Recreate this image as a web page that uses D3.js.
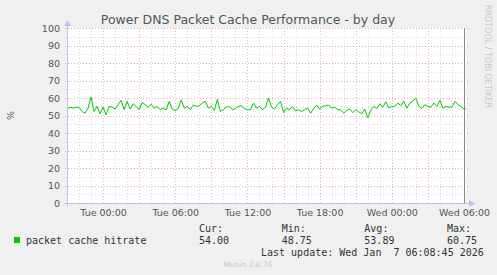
<!DOCTYPE html>
<html>
<head>
<meta charset="utf-8">
<script src="https://cdn.jsdelivr.net/npm/d3@7"></script>
<style>
	body { margin: 0; background: #f0f0f0; }
	svg { display: block; }
	.c-munin__tick text { font-family: "DejaVu Sans", sans-serif; font-size: 9.5px; fill: #555; }
	.c-munin__mono { font-family: "DejaVu Sans Mono", monospace; font-size: 10px; fill: #333; }
	.c-munin__grid line { shape-rendering: crispEdges; }
</style>
</head>
<body>
<svg id="chart" width="497" height="275"></svg>
<script>
//Chart values, one reading every 15 minutes from Mon 21:00
var startTime = "2026-01-05T21:00:00";
var endTime = "2026-01-07T06:10:00";
var stepMinutes = 15;
var hitrate = [
	53.3, 54.8, 54.2, 54.8, 54.6, 52.3, 51.3, 54.2, 60.6, 52.3,
	55.2, 51.0, 54.8, 50.4, 55.2, 54.8, 53.7, 56.2, 58.7, 53.3,
	58.1, 53.7, 56.7, 55.2, 53.3, 57.5, 56.2, 54.8, 56.5, 54.2,
	55.2, 53.3, 54.2, 53.3, 58.1, 53.7, 52.7, 54.2, 59.0, 54.2,
	55.2, 53.3, 56.0, 55.2, 55.6, 57.1, 58.1, 54.2, 55.2, 52.9,
	59.3, 52.3, 53.3, 54.8, 55.2, 53.3, 54.0, 55.2, 55.6, 54.0,
	53.3, 53.3, 57.1, 54.2, 55.2, 53.3, 54.8, 60.0, 54.8, 53.7,
	56.2, 58.1, 51.7, 54.2, 53.3, 55.2, 52.7, 53.3, 52.3, 53.3,
	54.2, 51.3, 54.0, 56.0, 53.7, 55.2, 55.6, 56.0, 54.2, 54.8,
	53.3, 53.3, 51.3, 52.9, 53.7, 51.7, 53.3, 52.1, 51.0, 53.7,
	48.75, 52.9, 55.2, 54.0, 56.7, 54.8, 57.9, 54.4, 55.2, 55.2,
	57.1, 55.6, 58.1, 54.2, 57.1, 58.3, 59.8, 55.2, 54.0, 56.2,
	55.2, 54.8, 57.1, 55.2, 58.7, 54.2, 55.2, 54.8, 54.8, 58.1,
	56.2, 55.2, 53.7, 54.0
];
var yTicks = [0, 10, 20, 30, 40, 50, 60, 70, 80, 90, 100];
var xLabelTimes = ["2026-01-06T00:00", "2026-01-06T06:00", "2026-01-06T12:00", "2026-01-06T18:00", "2026-01-07T00:00", "2026-01-07T06:00"];
var legendHeads = ["Cur:", "Min:", "Avg:", "Max:"];
var legendValues = ["54.00", "48.75", "53.89", "60.75"];

var classPrefix = "c-munin";
var svg = d3.select("#chart");
var plot = {left: 67, right: 466, top: 28, bottom: 203};

//Set up the scales
var parse = d3.isoParse;
var xScale = d3.scaleTime()
	.domain([parse(startTime), parse(endTime)])
	.range([plot.left, plot.right]);
var yScale = d3.scaleLinear()
	.domain([0, 100])
	.range([plot.bottom, plot.top]);

var points = hitrate.map(function(v, i){
	return {t: new Date(parse(startTime).getTime() + i * stepMinutes * 60000), v: v};
});

//Plot background
svg.append("rect")
	.attr("x", plot.left).attr("y", plot.top)
	.attr("width", plot.right - plot.left).attr("height", plot.bottom - plot.top)
	.attr("fill", "#fff");

//Grid lines
var hours = d3.timeHour.range(xScale.domain()[0], xScale.domain()[1]).filter(function(d){
	return +d > +xScale.domain()[0];
});
var grid = svg.append("g").attr("class", classPrefix + "__grid");
hours.forEach(function(d){
	var major = d.getHours() % 3 === 0;
	var x = Math.round(xScale(d));
	grid.append("line")
		.attr("x1", x).attr("x2", x)
		.attr("y1", plot.top).attr("y2", plot.bottom + (major ? 2 : 0))
		.attr("stroke", major ? "#eab4b4" : "#dcdcdc")
		.attr("stroke-dasharray", "1,2");
});
d3.range(5, 101, 5).forEach(function(v){
	var major = v % 10 === 0;
	var y = Math.round(yScale(v));
	grid.append("line")
		.attr("x1", plot.left - 2).attr("x2", plot.right + (major ? 3 : 0))
		.attr("y1", y).attr("y2", y)
		.attr("stroke", major ? "#e6a8a8" : "#dcdcdc")
		.attr("stroke-dasharray", "1,2");
});

//Axes
var yAxis = d3.axisLeft(yScale).tickValues(yTicks).tickSize(0).tickPadding(7);
svg.append("g")
	.attr("class", classPrefix + "__tick")
	.attr("transform", "translate(" + plot.left + ",0)")
	.call(yAxis)
	.call(function(g){ g.select(".domain").remove(); });

var xAxis = d3.axisBottom(xScale)
	.tickValues(xLabelTimes.map(parse))
	.tickFormat(d3.timeFormat("%a %H:%M"))
	.tickSize(0).tickPadding(6);
svg.append("g")
	.attr("class", classPrefix + "__tick")
	.attr("transform", "translate(0," + plot.bottom + ")")
	.call(xAxis)
	.call(function(g){ g.select(".domain").remove(); });

//Data line
svg.append("defs").append("clipPath").attr("id", "plotclip")
	.append("rect")
	.attr("x", plot.left).attr("y", plot.top)
	.attr("width", plot.right - plot.left).attr("height", plot.bottom - plot.top);
svg.append("path")
	.datum(points)
	.attr("clip-path", "url(#plotclip)")
	.attr("fill", "none")
	.attr("stroke", "#00cc00")
	.attr("stroke-width", 1)
	.attr("d", d3.line()
		.x(function(d){ return xScale(d.t); })
		.y(function(d){ return yScale(d.v); }));

//Right edge rule
svg.append("line")
	.attr("x1", plot.right - 1.5).attr("x2", plot.right - 1.5)
	.attr("y1", plot.top).attr("y2", plot.bottom)
	.attr("stroke", "#888");

//Axis lines with arrows
var axisColor = "#c0c0f0";
svg.append("line")
	.attr("x1", plot.left + 0.5).attr("x2", plot.left + 0.5)
	.attr("y1", plot.bottom + 3).attr("y2", plot.top - 4)
	.attr("stroke", axisColor);
svg.append("path")
	.attr("d", "M" + (plot.left - 3) + "," + (plot.top - 2) + "L" + (plot.left + 0.5) + "," + (plot.top - 8) + "L" + (plot.left + 4) + "," + (plot.top - 2) + "Z")
	.attr("fill", axisColor);
svg.append("line")
	.attr("x1", plot.left - 3).attr("x2", plot.right + 4)
	.attr("y1", plot.bottom + 0.5).attr("y2", plot.bottom + 0.5)
	.attr("stroke", axisColor);
svg.append("path")
	.attr("d", "M" + (plot.right + 3) + "," + (plot.bottom - 3) + "L" + (plot.right + 9) + "," + (plot.bottom + 0.5) + "L" + (plot.right + 3) + "," + (plot.bottom + 4) + "Z")
	.attr("fill", axisColor);

//Title and side labels
svg.append("text")
	.attr("x", 248).attr("y", 24)
	.attr("text-anchor", "middle")
	.style("font-family", "DejaVu Sans, sans-serif")
	.style("font-size", "12.5px")
	.attr("fill", "#555")
	.text("Power DNS Packet Cache Performance - by day");

svg.append("text")
	.attr("transform", "translate(14," + ((plot.top + plot.bottom) / 2) + ")rotate(-90)")
	.attr("text-anchor", "middle")
	.style("font-family", "DejaVu Sans, sans-serif")
	.style("font-size", "9.5px")
	.attr("fill", "#555")
	.text("%");

svg.append("text")
	.attr("transform", "translate(485,5)rotate(90)")
	.attr("text-anchor", "start")
	.style("font-family", "DejaVu Sans, sans-serif")
	.style("font-size", "8px")
	.attr("fill", "#c8c8c8")
	.text("RRDTOOL / TOBI OETIKER");

//Legend
svg.append("rect")
	.attr("x", 14).attr("y", 237)
	.attr("width", 6).attr("height", 6)
	.attr("fill", "#00cc00");
svg.append("text")
	.attr("class", classPrefix + "__mono")
	.attr("x", 26).attr("y", 243.5)
	.text("packet cache hitrate");

var legendX = d3.scalePoint().domain(legendHeads).range([199, 447]);
legendHeads.forEach(function(h, i){
	svg.append("text")
		.attr("class", classPrefix + "__mono")
		.attr("x", legendX(h)).attr("y", 231.5)
		.text(h);
	svg.append("text")
		.attr("class", classPrefix + "__mono")
		.attr("x", legendX(h)).attr("y", 243.5)
		.text(legendValues[i]);
});

svg.append("text")
	.attr("class", classPrefix + "__mono")
	.attr("x", 261).attr("y", 255.5)
	.style("white-space", "pre")
	.text("Last update: Wed Jan  7 06:08:45 2026");

svg.append("text")
	.attr("x", 248).attr("y", 267)
	.attr("text-anchor", "middle")
	.style("font-family", "DejaVu Sans, sans-serif")
	.style("font-size", "7.5px")
	.attr("fill", "#c8c8c8")
	.text("Munin 2.0.76");
</script>
</body>
</html>
